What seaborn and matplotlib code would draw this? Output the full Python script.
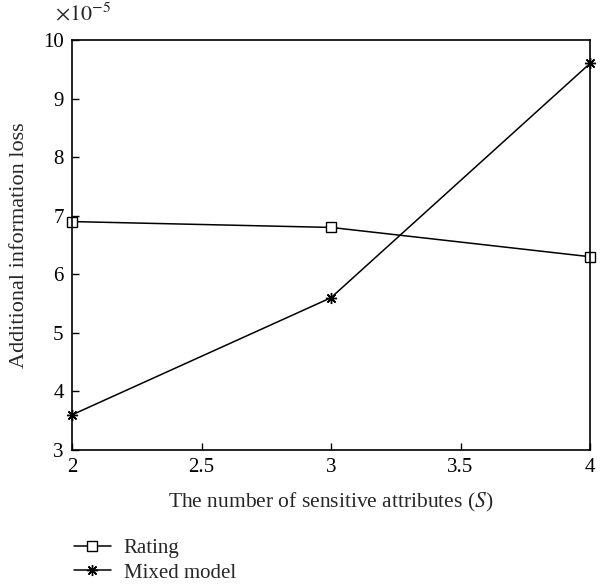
import matplotlib
matplotlib.use("Agg")
import matplotlib.pyplot as plt
import seaborn as sns
import pandas as pd

# Data (values in units of 1e-5)
s_values = [2, 3, 4]
rating = [6.9, 6.8, 6.3]
mixed_model = [3.6, 5.6, 9.6]
series_names = ["Rating", "Mixed model"]

sns.set_style("white")
plt.rcParams['font.family'] = ['Liberation Serif', 'DejaVu Serif']
plt.rcParams['mathtext.fontset'] = 'stix'

fig = plt.figure(figsize=(6.06, 5.86), dpi=100)
ax = fig.add_axes([72/606, 1-450/586, (590-72)/606, (450-40)/586])

df = pd.DataFrame({
    "S": s_values * 2,
    "loss": rating + mixed_model,
    "series": [series_names[0]] * 3 + [series_names[1]] * 3,
})

sns.lineplot(data=df[df.series == "Rating"], x="S", y="loss", ax=ax,
             color="black", lw=1.1, marker="s", markersize=6.5,
             markerfacecolor="white", markeredgecolor="black", markeredgewidth=1.0,
             label="Rating", clip_on=False)
sns.lineplot(data=df[df.series == "Mixed model"], x="S", y="loss", ax=ax,
             color="black", lw=1.1, marker=(8, 2, 0), markersize=8,
             markeredgecolor="black", markeredgewidth=1.0,
             label="Mixed model", clip_on=False)

ax.set_xlim(2, 4)
ax.set_ylim(3, 10)
ax.set_xticks([2, 2.5, 3, 3.5, 4])
ax.set_xticklabels(["2", "2.5", "3", "3.5", "4"])
ax.set_yticks(range(3, 11))
ax.tick_params(direction="in", length=5, width=1, labelsize=15, pad=6,
               top=False, right=False, left=True, bottom=True, colors="black")
for sp in ax.spines.values():
    sp.set_color("black")
    sp.set_linewidth(1.2)

ax.set_xlabel("The number of sensitive attributes ($\\mathit{S}$)", fontsize=15.5, labelpad=10)
ax.set_ylabel("Additional information loss", fontsize=16, labelpad=10)
ax.text(-0.033, 1.035, "$\\times10^{-5}$", transform=ax.transAxes, fontsize=16,
        ha="left", va="bottom")

leg = ax.legend(loc="upper left", bbox_to_anchor=(-0.013, -0.195), frameon=False,
                fontsize=15, handlelength=1.8, handletextpad=0.6, borderaxespad=0,
                labelspacing=0.25)

fig.savefig("out.png", dpi=100)
